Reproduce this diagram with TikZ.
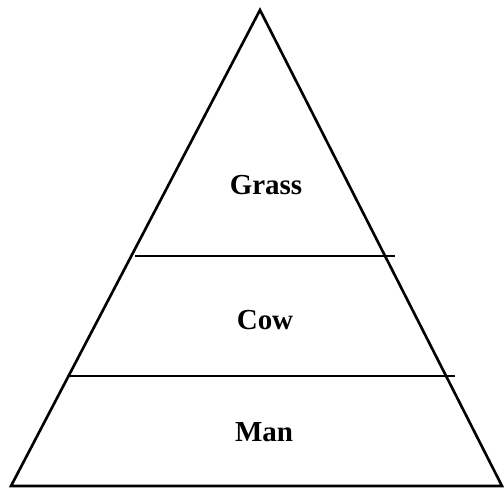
\documentclass[tikz,border=0pt]{standalone}
\usepackage{fontspec}
\setmainfont{Liberation Serif}
\usetikzlibrary{positioning}

\tikzset{
  level/.style={font=\bfseries\fontsize{16.5}{18}\selectfont}
}

\begin{document}
\begin{tikzpicture}[x=0.02cm,y=-0.02cm]

\useasboundingbox (0,0) rectangle (504,488);

\coordinate (top) at (260,10);
\coordinate (bl) at (11,486);
\coordinate (br) at (502,486);

\draw[line width=1.5pt, line join=miter] (top) -- (br) -- (bl) -- cycle;
\draw[line width=0.9pt] (135,256) -- (395,256);
\draw[line width=0.9pt] (70,376) -- (455,376);

\node[level] (grass) at (266,185) {Grass};
\node[level] (cow) at (265,320) {Cow};
\node[level] (man) at (264,432) {Man};

\end{tikzpicture}
\end{document}
